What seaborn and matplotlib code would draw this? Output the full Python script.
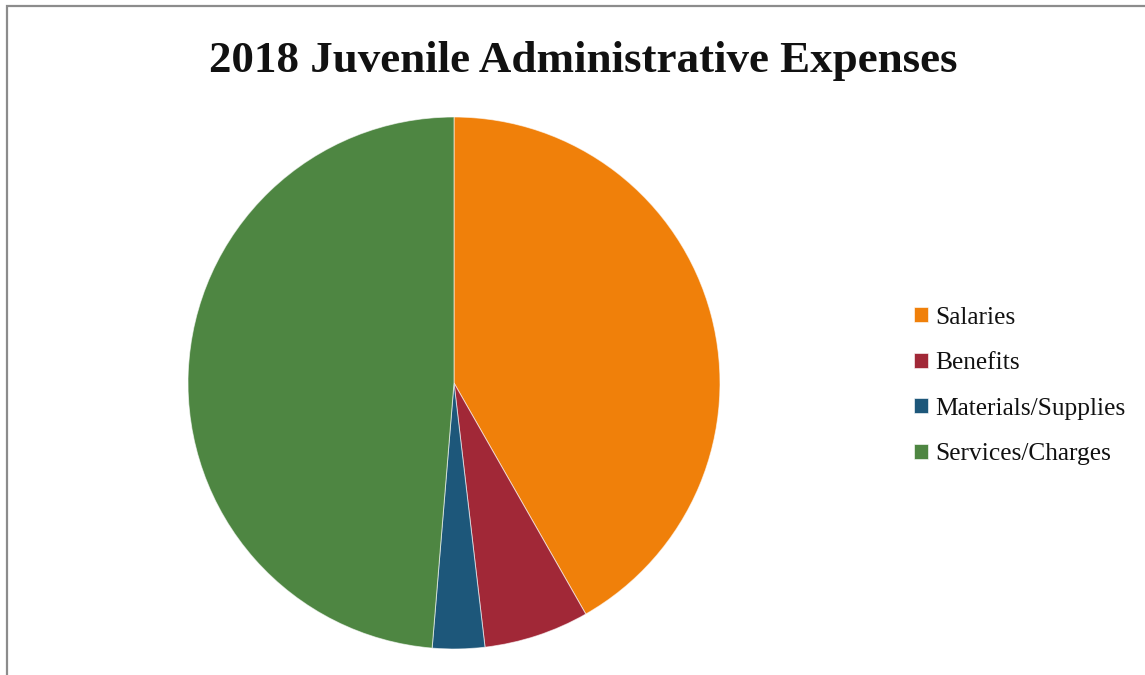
import matplotlib
matplotlib.use("Agg")
import matplotlib.pyplot as plt
import seaborn as sns
from matplotlib.patches import Rectangle

categories = ["Salaries", "Benefits", "Materials/Supplies", "Services/Charges"]
values = [41.75, 6.39, 3.17, 48.69]
colors = ["#F0800A", "#A12837", "#1D577A", "#4E8642"]
title = "2018 Juvenile Administrative Expenses"

sns.set_theme(style="white")
plt.rcParams['font.family'] = ['Liberation Serif', 'DejaVu Serif']

W, H = 1145, 675
fig = plt.figure(figsize=(W / 100, H / 100), dpi=100)

# pie axes: center (454, 383), radius 266 px
cx, cy, r = 454, 383, 266
ax = fig.add_axes([(cx - r) / W, (H - cy - r) / H, 2 * r / W, 2 * r / H])
wedges, _ = ax.pie(values, colors=colors, startangle=90, counterclock=False,
                   radius=1.0,
                   wedgeprops=dict(edgecolor=(1, 1, 1, 0.6), linewidth=0.7))
ax.set_xlim(-1, 1)
ax.set_ylim(-1, 1)
ax.set_aspect('equal')
ax.axis('off')

fig.text(583.5 / W, 1 - 61 / H, title, ha='center', va='center',
         fontsize=32.4, fontweight='bold', color='#111111')

leg = fig.legend(wedges, categories, loc='center left',
                 bbox_to_anchor=(914 / W, 1 - 386 / H), frameon=False,
                 fontsize=18.3, handlelength=0.55, handleheight=0.55,
                 handletextpad=0.28, labelspacing=0.93, borderpad=0,
                 borderaxespad=0)
for t in leg.get_texts():
    t.set_color('#111111')

# partial border (top and left visible)
fig.add_artist(Rectangle((7 / W, -0.1), 1.2, 1 - 6 / H + 0.1,
                         transform=fig.transFigure, fill=False,
                         edgecolor='#8c8c8c', linewidth=1.6))

fig.savefig("out.png", dpi=100, facecolor='white')
